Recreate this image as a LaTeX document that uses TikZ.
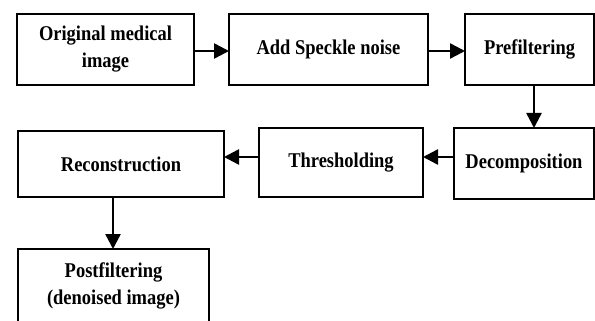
\documentclass[tikz,border=0pt]{standalone}
\usepackage{fontspec}
\setmainfont{Liberation Serif}
\newfontfamily\blkfont[FakeStretch=0.88]{Liberation Serif}
\usetikzlibrary{arrows.meta}
\tikzset{
  blk/.style={draw=black, line width=2pt, fill=white, inner sep=0pt, align=center,
    font=\blkfont\fontsize{21pt}{27pt}\selectfont\bfseries},
  arr/.style={line width=2.5pt, -{Triangle[length=15pt,width=15pt]}, shorten >=-1pt}
}
\begin{document}
\begin{tikzpicture}[x=1pt,y=-1pt]
  \useasboundingbox (0,0) rectangle (595,321);
  \clip (0,0) rectangle (595,321);
  \fill[white] (0,0) rectangle (595,321);

  % top row
  \node[blk, minimum width=177pt, minimum height=71pt] (orig) at (105.5,49.5) {Original medical\\image};
  \node[blk, minimum width=199pt, minimum height=71pt] (noise) at (328.5,49.5) {Add Speckle noise};
  \node[blk, minimum width=129pt, minimum height=71pt] (pre) at (529.5,49.5) {Prefiltering};

  % middle row
  \node[blk, minimum width=140pt, minimum height=71pt] (dec) at (524,163.5) {Decomposition};
  \node[blk, minimum width=164pt, minimum height=69pt] (thr) at (341,162.5) {Thresholding};
  \node[blk, minimum width=206pt, minimum height=66pt] (rec) at (121,164) {Reconstruction};

  % bottom box, running past the lower edge
  \node[blk, minimum width=191pt, minimum height=74pt] (post) at (113.5,286) {Postfiltering\\(denoised image)};

  % guide coordinates for off-centre connectors
  \coordinate (c34) at (534,0);
  \coordinate (r45) at (0,157);
  \coordinate (c67) at (113,0);

  \draw[arr] (orig.east |- 0,51) -- (noise.west |- 0,51);
  \draw[arr] (noise.east |- 0,51) -- (pre.west |- 0,51);
  \draw[arr] (pre.south -| c34) -- (dec.north -| c34);
  \draw[arr] (dec.west |- r45) -- (thr.east |- r45);
  \draw[arr] (thr.west |- r45) -- (rec.east |- r45);
  \draw[arr] (rec.south -| c67) -- (post.north -| c67);
\end{tikzpicture}
\end{document}
